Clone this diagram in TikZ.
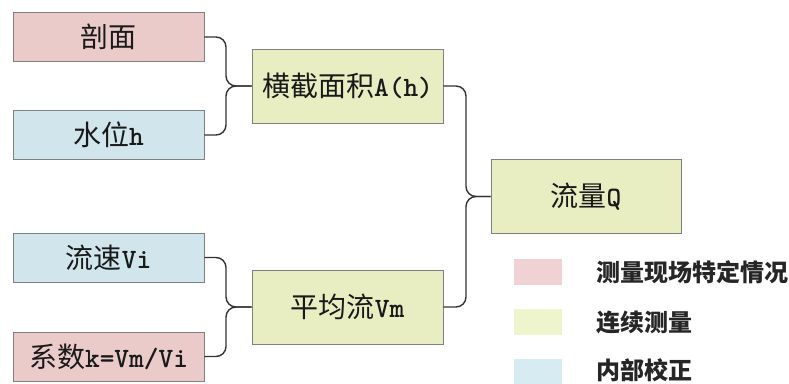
\documentclass[tikz,border=0pt]{standalone}
\usepackage{fontspec}
\newfontfamily\cjk{Noto Sans CJK SC}
\definecolor{cpink}{HTML}{EBCACA}
\definecolor{cblue}{HTML}{D0E6EC}
\definecolor{cgreen}{HTML}{E8EEC2}
\definecolor{lpink}{HTML}{F0D2D4}
\definecolor{lblue}{HTML}{D6ECF2}
\definecolor{lgreen}{HTML}{EEF4CC}
\tikzset{
  box/.style={draw=black!50, line width=0.9pt, minimum width=191pt, inner sep=0pt,
    font=\ttfamily\bfseries\fontsize{28}{28}\selectfont, text=black!90},
  small/.style={box, minimum height=49pt},
  big/.style={box, minimum height=74pt},
  link/.style={draw=black!80, line width=1.4pt, rounded corners=10pt},
  swatch/.style={minimum width=48pt, minimum height=26pt, inner sep=0pt},
  legtext/.style={anchor=west, inner sep=0pt, font=\cjk\bfseries\fontsize{24}{24}\selectfont, text=black!85}
}
\begin{document}
\begin{tikzpicture}[x=1pt,y=-1pt]
\useasboundingbox (0,0) rectangle (789,383);
\node[small, fill=cpink] (pm) at (108.5,37) {{\cjk\mdseries 剖面}};
\node[small, fill=cblue] (sw) at (108.5,135) {{\cjk\mdseries 水位}h};
\node[small, fill=cblue] (ls) at (108.5,257.5) {{\cjk\mdseries 流速}Vi};
\node[small, fill=cpink] (xs) at (108.5,356.5) {{\cjk\mdseries 系数}k=Vm/Vi};
\node[big, fill=cgreen] (ah) at (347.5,86) {{\cjk\mdseries 横截面积}A(h)};
\node[big, fill=cgreen] (vm) at (347.5,307) {{\cjk\mdseries 平均流}Vm};
\node[big, minimum width=190pt, fill=cgreen] (q) at (586,196.5) {{\cjk\mdseries 流量}Q};

\draw[link] (pm.east) -| (226,86) -- (ah.west);
\draw[link] (sw.east) -| (226,86) -- (ah.west);
\draw[link] (ls.east) -| (226,307) -- (vm.west);
\draw[link] (xs.east) -| (226,307) -- (vm.west);
\draw[link] (ah.east) -| (466,196.5) -- (q.west);
\draw[link] (vm.east) -| (466,196.5) -- (q.west);

\node[swatch, fill=lpink] (s1) at (538,271.5) {};
\node[swatch, fill=lgreen] (s2) at (538,322) {};
\node[swatch, fill=lblue] (s3) at (538,372) {};
\node[legtext] (t1) at (596,272) {测量现场特定情况};
\node[legtext] (t2) at (596,323) {连续测量};
\node[legtext] (t3) at (596,370) {内部校正};
\end{tikzpicture}
\end{document}
